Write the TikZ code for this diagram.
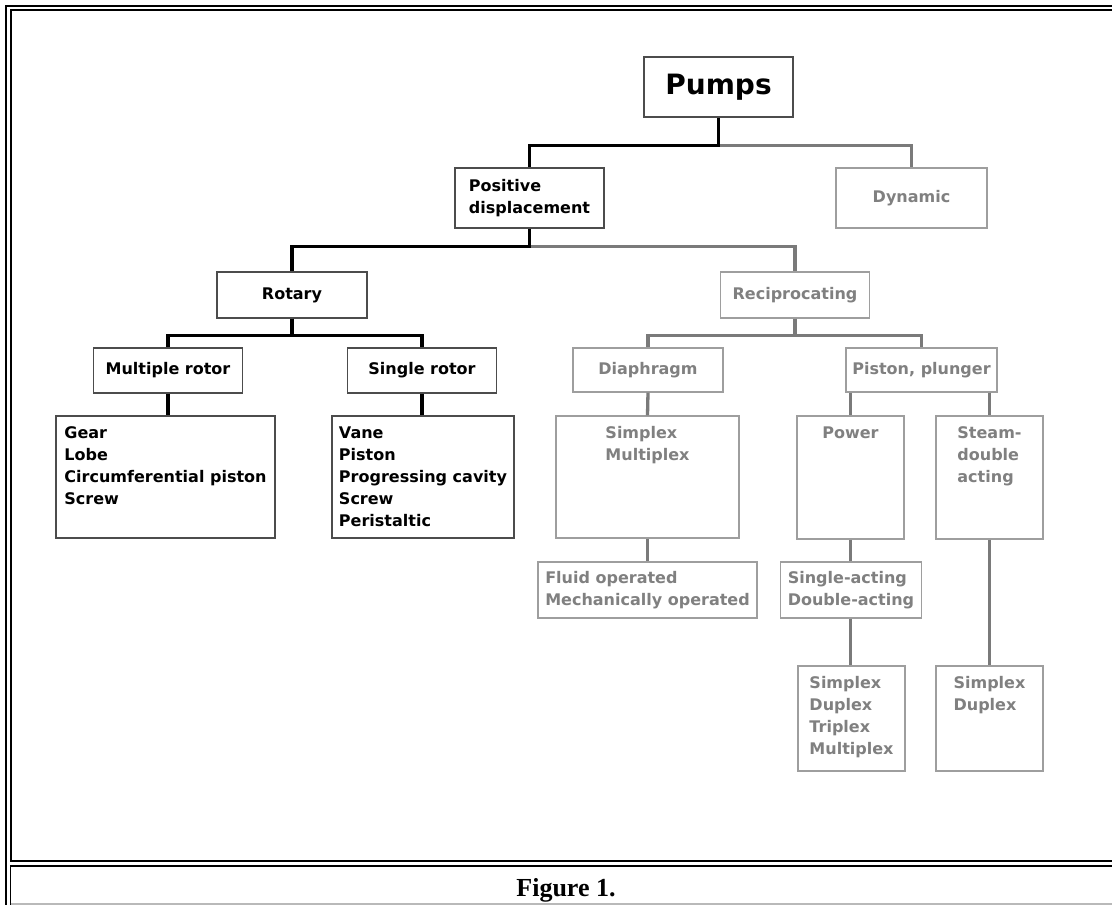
\documentclass[tikz,border=0pt]{standalone}
\usepackage{fontspec}
\setmainfont{DejaVu Sans}
\newfontfamily\fuentepie{Liberation Serif}
\colorlet{LineaNegra}{black}
\definecolor{LineaGris}{gray}{0.48}
\definecolor{BordeNegro}{gray}{0.3}
\definecolor{BordeGris}{gray}{0.62}
\definecolor{TextoGris}{gray}{0.5}
\usetikzlibrary{positioning}
\tikzset{
    caja/.style={draw=BordeNegro, line width=1.3pt, inner sep=0pt, text=black,
        font=\bfseries\fontsize{16}{22}\selectfont, align=left},
    caja gris/.style={caja, draw=BordeGris, text=TextoGris},
    lista/.style={inner sep=0pt, font=\bfseries\fontsize{16}{22}\selectfont, align=left},
    rama/.style={line width=3.3pt, draw=LineaNegra},
    rama gris/.style={line width=3.3pt, draw=LineaGris}
}

\begin{document}
\begin{tikzpicture}[x=1pt, y=-1pt]

\fill[white] (0,0) rectangle (1112,905);
\useasboundingbox (0,0) rectangle (1112,905);

% Marco de la tabla
\draw[line width=2pt] (6,905) -- (6,6) -- (1112,6);
\draw[line width=2pt] (1112,861) -- (10.5,861) -- (10.5,10) -- (1112,10);
\draw[line width=1.5pt] (1112,866) -- (10.5,866) -- (10.5,905);
\draw[line width=1.5pt, gray!55] (10.5,904) -- (1112,904);

% Cajas de la rama negra
\node[caja, minimum width=149pt, minimum height=60pt,
      font=\bfseries\fontsize{28}{32}\selectfont] (pumps) at (718.5,87) {Pumps};
\node[caja, minimum width=149pt, minimum height=60pt] (pd) at (529.5,198) {Positive\\displacement};
\node[caja, minimum width=150pt, minimum height=46pt] (rot) at (292,295) {Rotary};
\node[caja, minimum width=149pt, minimum height=45pt] (mr) at (168,370.5) {Multiple rotor};
\node[caja, minimum width=149pt, minimum height=45pt] (sr) at (422,370.5) {Single rotor};
\node[caja, minimum width=219pt, minimum height=122pt] (gear) at (165.5,477) {};
\node[caja, minimum width=182pt, minimum height=122pt] (vane) at (423,477) {};

% Cajas de la rama gris
\node[caja gris, minimum width=151pt, minimum height=60pt] (dyn) at (911.5,198) {Dynamic};
\node[caja gris, minimum width=149pt, minimum height=46pt] (rec) at (795,295) {Reciprocating};
\node[caja gris, minimum width=150pt, minimum height=44pt] (dia) at (648,370) {Diaphragm};
\node[caja gris, minimum width=151pt, minimum height=44pt] (pp) at (921.5,370) {Piston, plunger};
\node[caja gris, minimum width=183pt, minimum height=122pt] (simm) at (647.5,477) {};
\node[caja gris, minimum width=107pt, minimum height=123pt] (power) at (850.5,477.5) {};
\node[caja gris, minimum width=107pt, minimum height=123pt] (steam) at (989.5,477.5) {};
\node[caja gris, minimum width=219pt, minimum height=56pt] (fluid) at (647.5,590) {Fluid operated\\Mechanically operated};
\node[caja gris, minimum width=141pt, minimum height=56pt] (acting) at (851,590) {Single-acting\\Double-acting};
\node[caja gris, minimum width=107pt, minimum height=105pt] (sdtm) at (851.5,718.5) {};
\node[caja gris, minimum width=107pt, minimum height=105pt] (sd) at (989.5,718.5) {};

% Textos arriba dentro de las cajas altas
\node[lista, below=11pt of gear.north] (gear-t) {Gear\\Lobe\\Circumferential piston\\Screw};
\node[lista, below=11pt of vane.north] (vane-t) {Vane\\Piston\\Progressing cavity\\Screw\\Peristaltic};
\node[lista, text=TextoGris, below=11pt of simm.north] (simm-t) {Simplex\\Multiplex};
\node[lista, text=TextoGris, below=11pt of power.north] (power-t) {Power};
\node[lista, text=TextoGris, below=11pt of steam.north] (steam-t) {Steam-\\double\\acting};
\node[lista, text=TextoGris, below=11pt of sdtm.north] (sdtm-t) {Simplex\\Duplex\\Triplex\\Multiplex};
\node[lista, text=TextoGris, below=11pt of sd.north] (sd-t) {Simplex\\Duplex};

% Ramas grises primero, para que las negras queden encima
\draw[rama gris] (pumps.south) -- ++(0,28) -| (dyn.north);
\draw[rama gris] (pd.south) -- ++(0,18) -| (rec.north);
\draw[rama gris] (rec.south) -- ++(0,17) -| (dia.north);
\draw[rama gris] (rec.south) -- ++(0,17) -| (pp.north);
\draw[rama gris] (dia.south) -- (simm.north);
\draw[rama gris] (simm.south) -- (fluid.north);
\draw[rama gris] (power.north |- pp.south) -- (power.north);
\draw[rama gris] (steam.north |- pp.south) -- (steam.north);
\draw[rama gris] (power.south) -- (power.south |- acting.north);
\draw[rama gris] (acting.south -| power.south) -- (sdtm.north -| power.south);
\draw[rama gris] (steam.south) -- (sd.north);

% Ramas negras
\draw[rama] (pumps.south) -- ++(0,28) -| (pd.north);
\draw[rama] (pd.south) -- ++(0,18) -| (rot.north);
\draw[rama] (rot.south) -- ++(0,17) -| (mr.north);
\draw[rama] (rot.south) -- ++(0,17) -| (sr.north);
\draw[rama] (mr.south) -- (mr.south |- gear.north);
\draw[rama] (sr.south) -- (sr.south |- vane.north);

% Pie de figura
\node[font=\fuentepie\bfseries\fontsize{26}{30}\selectfont, inner sep=0pt, anchor=base] (pie) at (566,896) {Figure 1.};

\end{tikzpicture}
\end{document}
